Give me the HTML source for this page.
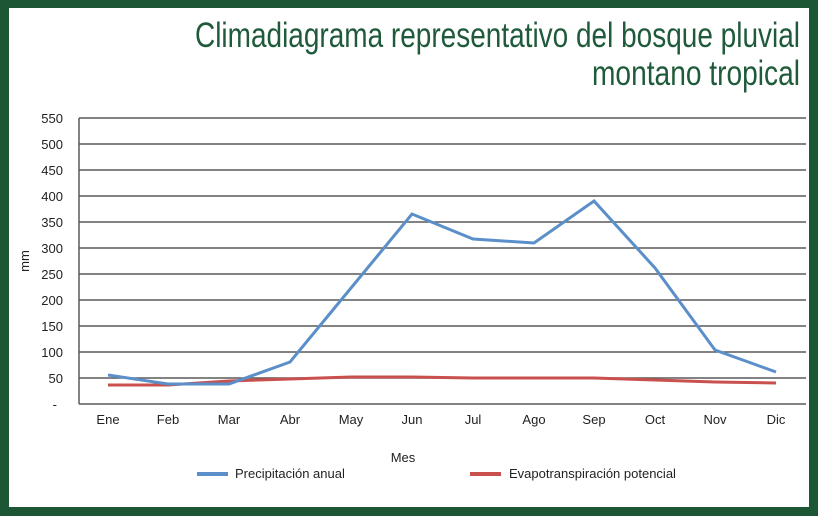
<!DOCTYPE html>
<html><head><meta charset="utf-8"><style>
html,body{margin:0;padding:0;background:#1d5634;}
svg{display:block}
</style></head><body>
<svg width="818" height="516" xmlns="http://www.w3.org/2000/svg" font-family="Liberation Sans, sans-serif">
<rect x="0" y="0" width="818" height="516" fill="#1d5634"/>
<rect x="9" y="8" width="800" height="499" fill="#fff"/>
<text x="800" y="47" text-anchor="end" font-size="35" fill="#1f5a3a" textLength="605" lengthAdjust="spacingAndGlyphs">Climadiagrama representativo del bosque pluvial</text>
<text x="800" y="85" text-anchor="end" font-size="35" fill="#1f5a3a" textLength="208" lengthAdjust="spacingAndGlyphs">montano tropical</text>
<g stroke="#5a5a5a" stroke-width="1.5">
<line x1="79" y1="118" x2="806" y2="118"/>
<line x1="79" y1="144" x2="806" y2="144"/>
<line x1="79" y1="170" x2="806" y2="170"/>
<line x1="79" y1="196" x2="806" y2="196"/>
<line x1="79" y1="222" x2="806" y2="222"/>
<line x1="79" y1="248" x2="806" y2="248"/>
<line x1="79" y1="274" x2="806" y2="274"/>
<line x1="79" y1="300" x2="806" y2="300"/>
<line x1="79" y1="326" x2="806" y2="326"/>
<line x1="79" y1="352" x2="806" y2="352"/>
<line x1="79" y1="378" x2="806" y2="378"/>
<line x1="79" y1="404" x2="806" y2="404"/>
<line x1="79" y1="118" x2="79" y2="404"/>
</g>
<g font-size="13" fill="#222" text-anchor="end">
<text x="63" y="123">550</text><text x="63" y="149">500</text><text x="63" y="175">450</text>
<text x="63" y="201">400</text><text x="63" y="227">350</text><text x="63" y="253">300</text>
<text x="63" y="279">250</text><text x="63" y="305">200</text><text x="63" y="331">150</text>
<text x="63" y="357">100</text><text x="63" y="383">50</text><text x="57" y="409">-</text>
</g>
<text x="29" y="261" font-size="13" fill="#222" text-anchor="middle" transform="rotate(-90 29 261)">mm</text>
<g font-size="13" fill="#222" text-anchor="middle">
<text x="108" y="424">Ene</text><text x="168" y="424">Feb</text><text x="229" y="424">Mar</text>
<text x="290" y="424">Abr</text><text x="351" y="424">May</text><text x="412" y="424">Jun</text>
<text x="473" y="424">Jul</text><text x="534" y="424">Ago</text><text x="594" y="424">Sep</text>
<text x="655" y="424">Oct</text><text x="715" y="424">Nov</text><text x="776" y="424">Dic</text>
<text x="403" y="462">Mes</text>
</g>
<polyline fill="none" stroke="#c9504d" stroke-width="3" points="108,385 168,385 229,381 290,379 351,377 412,377 473,378 534,378 594,378 655,380 715,382 776,383"/>
<polyline fill="none" stroke="#5b8fc9" stroke-width="3" points="108,375 168,384 229,384 290,362 351,288 412,214 473,239 534,243 594,201 655,268 715,350 776,372"/>
<line x1="197" y1="474" x2="228" y2="474" stroke="#5b8fc9" stroke-width="4"/>
<text x="235" y="478" font-size="13" fill="#222">Precipitación anual</text>
<line x1="470" y1="474" x2="501" y2="474" stroke="#c9504d" stroke-width="4"/>
<text x="509" y="478" font-size="13" fill="#222">Evapotranspiración potencial</text>
</svg>
</body></html>
